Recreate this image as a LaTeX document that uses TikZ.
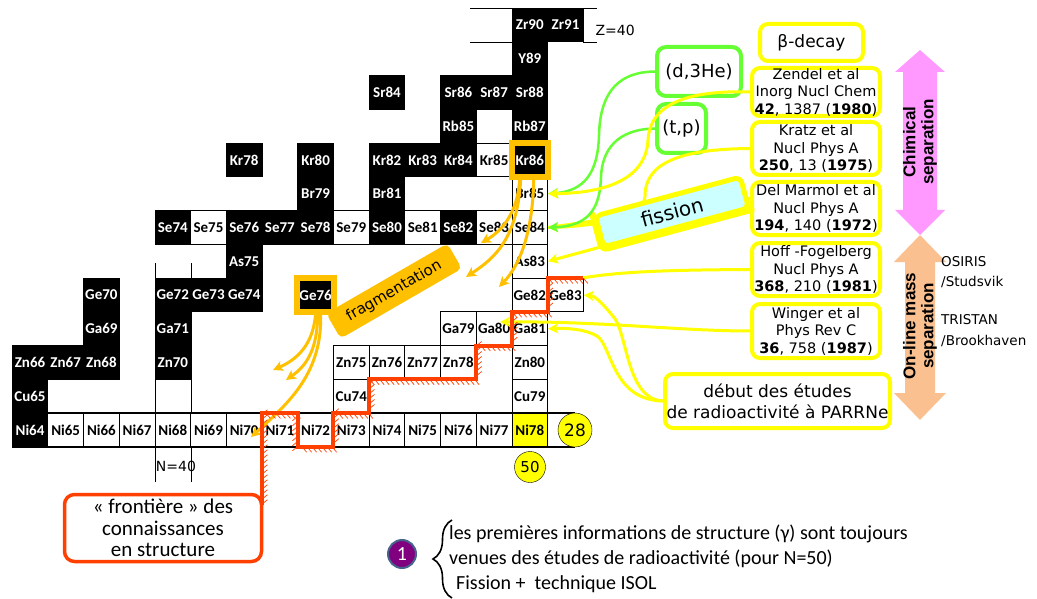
\documentclass[tikz,border=0pt]{standalone}
\usepackage{fontspec}
\setmainfont{DejaVu Sans}
\newfontfamily\calib{Carlito}
\newfontfamily\arialf{Liberation Sans}
\usepackage{tikz}
\usetikzlibrary{arrows.meta,decorations.pathreplacing}

\definecolor{ppyellow}{RGB}{255,255,0}
\definecolor{ppgreen}{RGB}{102,255,51}
\definecolor{pporange}{RGB}{255,192,0}
\definecolor{ppred}{RGB}{255,64,0}
\definecolor{ppcyan}{RGB}{204,255,255}
\definecolor{pppink}{RGB}{255,153,255}
\definecolor{pppeach}{RGB}{250,192,144}
\definecolor{pppurple}{RGB}{128,0,128}
\definecolor{ppblue}{RGB}{70,100,140}
\newcommand{\fsz}[2]{\fontsize{#1}{#2}\selectfont}

\tikzset{
  nuc/.style={minimum width=35.7pt,minimum height=33.75pt,inner sep=0pt,line width=0.8pt,
    font=\calib\bfseries\fsz{15}{17}},
  stab/.style={nuc,draw=black,fill=black,text=white},
  unst/.style={nuc,draw=black,fill=white},
  ybox/.style={draw=ppyellow,line width=4pt,rounded corners=8pt,fill=white,align=center,
    inner sep=0pt,minimum width=128pt,minimum height=53pt,font=\fsz{14.5}{17.5}},
  gbox/.style={draw=ppgreen,line width=4pt,rounded corners=9pt,fill=white,inner sep=0pt,
    minimum height=49pt,font=\fsz{18}{20}},
  yarr/.style={ppyellow,line width=3pt,->},
  garr/.style={ppgreen,line width=2.5pt,->},
  oarr/.style={pporange,line width=3pt,->},
  hilite/.style={draw=pporange,line width=6pt},
  frontier/.style={ppred,line width=4pt,
    postaction={draw=ppred,line width=0.7pt,decorate,
      decoration={border,segment length=5pt,amplitude=-7pt,angle=-50}}},
  magic/.style={line width=2.5pt},
}

\begin{document}
\begin{tikzpicture}[x=1pt,y=-1pt,>={Stealth[length=10pt,width=10pt,inset=2.5pt]}]
  \useasboundingbox (0,0) rectangle (1037,599);

  % magic numbers N=40, Z=40
  \draw (155,263) -- (155,482); \draw (190.7,263) -- (190.7,482);
  \node[font=\fsz{14}{16}] (n40) at (176,466) {N=40};
  \draw (470,8.1) -- (512,8.1); \draw (470,41.9) -- (512,41.9);
  \draw (583.4,8.1) -- (597,8.1); \draw (583.4,41.9) -- (597,41.9);
  \node[anchor=west,font=\fsz{14}{16}] (z40) at (592,30) {Z=40};

  % chart of nuclides
  \foreach \nm/\nn/\zz in {Zr90/50/40,Zr91/51/40,Y89/50/39,Sr84/46/38,Sr86/48/38,Sr87/49/38,
      Sr88/50/38,Rb85/48/37,Rb87/50/37,Kr78/42/36,Kr80/44/36,Kr82/46/36,Kr83/47/36,Kr84/48/36,
      Kr86/50/36,Br79/44/35,Br81/46/35,Se74/40/34,Se76/42/34,Se77/43/34,Se78/44/34,Se80/46/34,
      Se82/48/34,As75/42/33,Ge70/38/32,Ge72/40/32,Ge73/41/32,Ge74/42/32,Ge76/44/32,Ga69/38/31,
      Ga71/40/31,Zn66/36/30,Zn67/37/30,Zn68/38/30,Zn70/40/30,Cu65/36/29,Ni64/36/28}
    \node[stab] (\nm) at ({30+35.7*(\nn-36)},{430-33.75*(\zz-28)}) {\nm};
  \foreach \nm/\nn/\zz in {Kr85/49/36,Br85/50/35,Se75/41/34,Se79/45/34,Se81/47/34,Se83/49/34,
      Se84/50/34,As83/50/33,Ge82/50/32,Ge83/51/32,Ga79/48/31,Ga80/49/31,Ga81/50/31,Zn75/45/30,
      Zn76/46/30,Zn77/47/30,Zn78/48/30,Zn80/50/30,Cu74/45/29,Cu79/50/29}
    \node[unst] (\nm) at ({30+35.7*(\nn-36)},{430-33.75*(\zz-28)}) {\nm};
  \foreach \nn in {37,...,49} {
    \pgfmathtruncatemacro\aa{\nn+28}
    \node[unst] (Ni\aa) at ({30+35.7*(\nn-36)},430) {Ni\aa};
  }
  \node[unst,fill=ppyellow] (Ni78) at ({30+35.7*14},430) {Ni78};

  % Z=28, N=50
  \draw[magic] (12.15,413.1) -- (575,413.1);
  \draw[magic] (12.15,446.9) -- (575,446.9);
  \node[circle,draw=black,fill=ppyellow,minimum size=34pt,inner sep=0pt,font=\fsz{17}{18}] (c28) at (575,430) {28};
  \node[circle,draw=black,fill=ppyellow,minimum size=31pt,inner sep=0pt,font=\fsz{15}{16}] (c50) at (530,467) {50};

  \draw[hilite] (Kr86.north west) rectangle (Kr86.south east);
  \draw[hilite] (Ge76.north west) rectangle (Ge76.south east);

  % references
  \node[ybox,minimum width=103pt,minimum height=37pt,font=\fsz{17}{20}] (beta) at (811.5,42.5) {β-decay};
  \node[ybox,minimum height=48pt] (zendel) at (816,92) {Zendel et al\\Inorg Nucl Chem\\\textbf{42}, 1387 (\textbf{1980})};
  \node[ybox] (kratz) at (816,148.5) {Kratz et al\\Nucl Phys A\\\textbf{250}, 13 (\textbf{1975})};
  \node[ybox] (marmol) at (816,208.5) {Del Marmol et al\\Nucl Phys A\\\textbf{194}, 140 (\textbf{1972})};
  \node[ybox] (hoff) at (816,269.5) {Hoff -Fogelberg\\Nucl Phys A\\\textbf{368}, 210 (\textbf{1981})};
  \node[ybox,minimum height=54pt] (winger) at (816,331) {Winger et al\\Phys Rev C\\\textbf{36}, 758 (\textbf{1987})};
  \node[ybox,minimum width=225pt,minimum height=54pt,font=\fsz{17}{21}] (debut) at (777.5,401) {début des études\\de radioactivité à PARRNe};
  \node[gbox,minimum width=84pt] (d3he) at (699,71.5) {(d,3He)};
  \node[gbox,minimum width=49pt] (tp) at (681.5,128.5) {(t,p)};

  \draw[yarr] (kratz.west) .. controls (680,149) and (645,163) .. (645,196) .. controls (645,216) and (600,226) .. (Se84.east);
  \draw[ppyellow,line width=3pt] ([yshift=10pt]marmol.west) -- (Se84.east);
  \draw[yarr] ([yshift=2pt]marmol.west) -- (As83.east);
  \node[draw=ppyellow,line width=5pt,fill=ppcyan,rounded corners=6pt,minimum width=150pt,
    minimum height=32pt,rotate=15,font=\fsz{20}{22}] (fission) at (672,212) {fission};
  \draw[ppyellow,line width=6pt,line cap=round,rounded corners=6pt]
    (fission.north west) -- (fission.south west) -- (fission.south east);

  \draw[garr] (d3he.west) .. controls (612,72) and (600,100) .. (599,135) .. controls (598,172) and (585,191) .. (Br85.east);
  \draw[garr] (tp.west) .. controls (617,129) and (602,150) .. (601,177) .. controls (600,207) and (590,226) .. (Se84.east);
  \draw[yarr] (zendel.west) .. controls (690,90) and (650,103) .. (648,140) .. controls (646,176) and (612,193) .. (Br85.east);
  \draw[ppyellow,line width=3pt] (hoff.west) .. controls (660,270) and (620,272) .. (Ge83.north east);
  \coordinate (ga80tip) at (500,322);
  \draw[yarr] (winger.west) .. controls (680,331) and (600,321) .. (ga80tip);
  \draw[yarr] (debut.west) .. controls (625,399) and (628,330) .. (612,315) .. controls (602,303) and (595,296) .. (Ge83.east);
  \draw[yarr] (debut.west) .. controls (612,400) and (612,346) .. (597,336) .. controls (585,329) and (567,328) .. (Ga81.east);

  % fragmentation
  \coordinate (k1) at (481,243); \coordinate (k2) at (466,277); \coordinate (k3) at (499,287);
  \coordinate (g1) at (273,370); \coordinate (g2) at (286,380); \coordinate (g3) at (251,437);
  \draw[oarr] ([xshift=-10pt]Kr86.south) .. controls (518,215) and (500,232) .. (k1);
  \draw[oarr] ([xshift=-9pt]Kr86.south) .. controls (518,238) and (495,258) .. (k2);
  \draw[oarr] ([xshift=4pt]Kr86.south) .. controls (533,232) and (520,265) .. (k3);
  \draw[oarr] (Ge76.south) .. controls (314,345) and (296,360) .. (g1);
  \draw[oarr] ([xshift=2pt]Ge76.south) .. controls (318,350) and (306,366) .. (g2);
  \draw[oarr] ([xshift=5pt]Ge76.south) .. controls (323,372) and (290,402) .. (g3);
  \node[fill=pporange,rounded corners=5pt,minimum width=140pt,minimum height=29pt,rotate=30,
    font=\fsz{15}{17}] (frag) at (394,291) {fragmentation};

  % frontier of knowledge
  \draw[frontier] (583.35,278.1) -- (547.65,278.1) -- (547.65,311.9) -- (511.95,311.9)
    -- (511.95,345.6) -- (476.25,345.6) -- (476.25,379.4) -- (369.15,379.4) -- (369.15,413.1)
    -- (333.45,413.1) -- (333.45,446.9) -- (297.75,446.9) -- (297.75,413.1) -- (262.05,413.1)
    -- (262.05,505);
  \node[draw=ppred,line width=3.5pt,rounded corners=10pt,fill=white,minimum width=197pt,
    minimum height=67pt,align=center,font=\calib\fsz{21}{21.5}] (front) at (163,528)
    {« frontière » des\\connaissances\\en structure};

  % separation techniques
  \fill[pppink] (920,50) -- (945,72) -- (937,72) -- (937,210) -- (945,210) -- (920,235)
    -- (895,210) -- (903,210) -- (903,72) -- (895,72) -- cycle;
  \fill[pppeach] (920,235) -- (946,262) -- (935,262) -- (935,393) -- (946,393) -- (920,420)
    -- (894,393) -- (905,393) -- (905,262) -- (894,262) -- cycle;
  \node[rotate=90,align=center,font=\arialf\bfseries\fsz{17}{18}] (chim) at (920,142) {Chimical\\separation};
  \node[rotate=90,align=center,font=\arialf\bfseries\fsz{17}{18}] (online) at (920,326) {On-line mass\\separation};
  \node[anchor=west,align=left,inner sep=0pt,font=\fsz{13.5}{20.5}] (osiris) at (941,272) {OSIRIS\\/Studsvik};
  \node[anchor=west,align=left,inner sep=0pt,font=\fsz{13.5}{20.5}] (tristan) at (941,330.5) {TRISTAN\\/Brookhaven};

  % conclusion
  \node[circle,fill=pppurple,draw=ppblue,line width=2pt,minimum size=28pt,inner sep=0pt,
    text=white,font=\calib\fsz{20}{22}] (one) at (402,554) {1};
  \draw[decorate,decoration={brace,amplitude=19pt},line width=1.6pt] (452,598) -- (452,520);
  \node[anchor=west,align=left,inner sep=0pt,font=\calib\fsz{20}{25}] (info) at (449,559)
    {les premières informations de structure (γ) sont toujours\\venues des études de radioactivité (pour N=50)\\\hspace*{7pt}Fission +\ \ technique ISOL};
\end{tikzpicture}
\end{document}
